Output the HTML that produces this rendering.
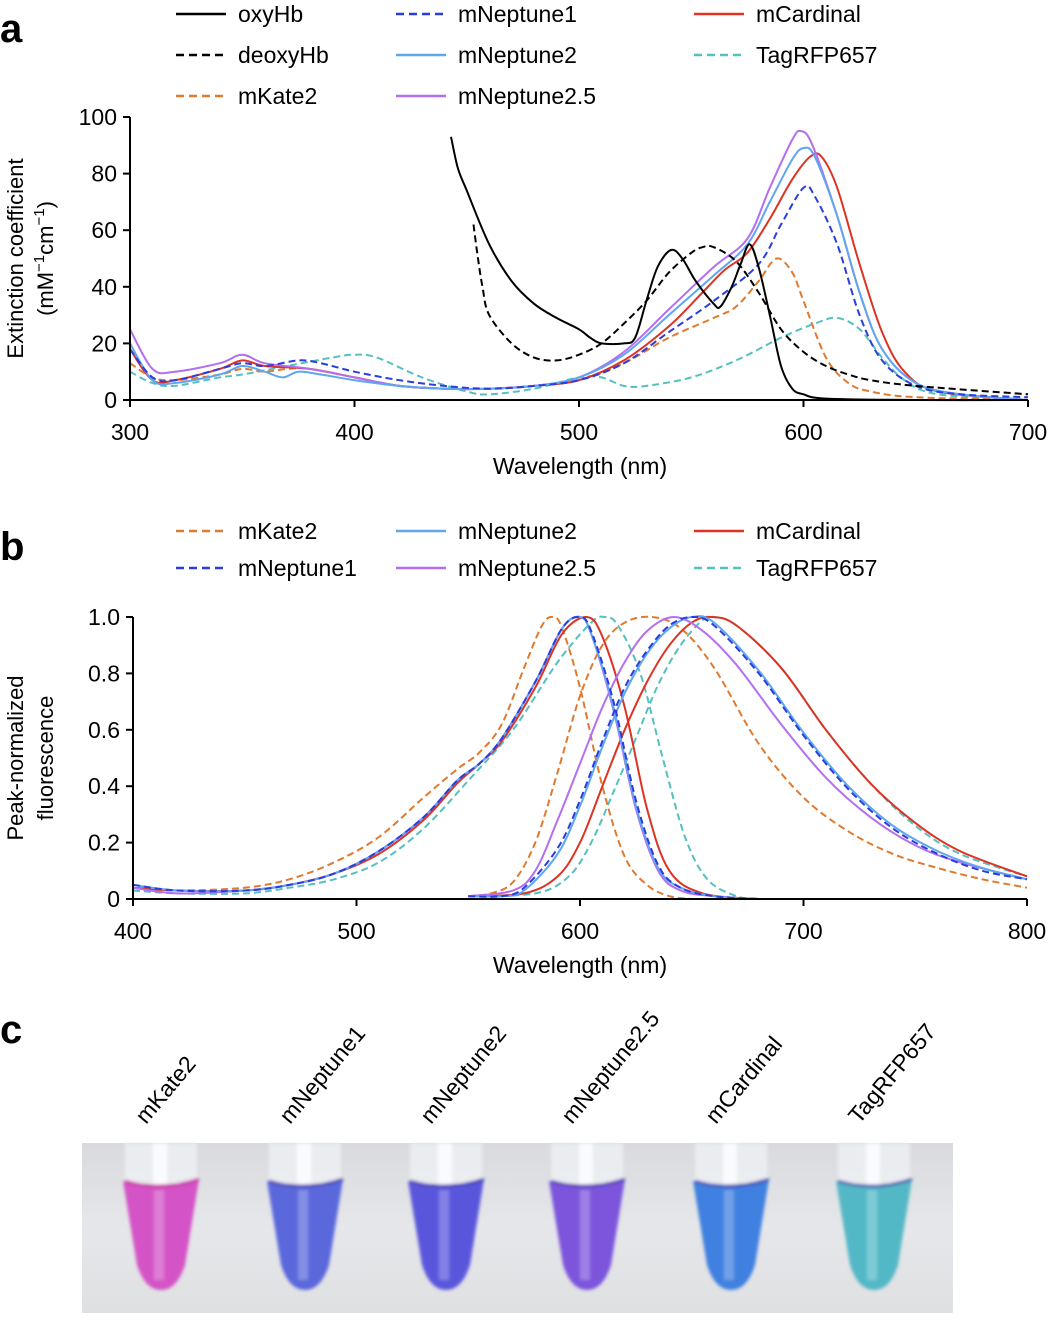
<!DOCTYPE html>
<html><head><meta charset="utf-8">
<style>
body{margin:0;background:#fff;}
svg{display:block;font-family:"Liberation Sans",sans-serif;}
</style></head>
<body>
<svg id="fig" width="1050" height="1317" viewBox="0 0 1050 1317">
<defs>
<linearGradient id="bg" x1="0" y1="0" x2="0" y2="1">
<stop offset="0" stop-color="#d9dadd"/><stop offset="0.5" stop-color="#e6e7ea"/><stop offset="1" stop-color="#dfe0e2"/>
</linearGradient>
<filter id="blur"><feGaussianBlur stdDeviation="1.5"/></filter>
</defs>
<g id="panelA"></g>
<g id="panelB"></g>
<g id="panelC"></g>
</svg>
<script>
// ---------- Panel a data (wavelength nm, extinction mM-1cm-1) ----------
const aOxyX=[443,446,450,460,470,480,490,500,505,510,520,525,530,535,541,546,552,560,563,568,572,576,580,585,590,595,600,610,650,700];
const aOxyY=[93,82,74,55,42,34,29,25,22,20,20,22,35,47,53,50,42,34,33,40,48,55,47,30,12,4,2,0.5,0,0];
const aDeoxyX=[453,455,457,460,470,480,490,500,510,520,530,540,550,555,560,570,580,590,600,610,620,630,650,700];
const aDeoxyY=[62,50,40,30,20,15,14,16,20,27,35,45,52,54,54,49,38,25,17,12,9,7,5,2];
const aKateX=[300,310,320,340,350,360,370,380,400,420,440,460,480,500,520,540,560,570,580,588,595,600,610,620,630,650,700];
const aKateY=[13,8,7,9,11,10,11,11,8,5,4,4,5,7,13,22,29,33,42,50,45,35,15,6,3,1,0];
const aNep1X=[300,310,320,340,350,360,375,385,400,420,440,460,480,500,520,540,560,580,590,600,605,615,625,635,650,670,700];
const aNep1Y=[18,8,7,11,13,12,14,13,10,7,5,4,5,7,13,24,35,48,62,75,72,55,30,14,5,2,1];
const aNep2X=[300,310,320,340,350,360,368,375,385,400,420,440,460,480,500,520,540,560,575,585,595,600,605,615,625,635,650,670,700];
const aNep2Y=[20,7,6,9,12,10,8,10,9,7,5,4,4,5,8,16,30,44,55,70,85,89,86,65,38,18,6,2,0];
const aNep25X=[300,310,320,340,350,360,380,400,420,440,460,480,500,520,540,560,575,585,595,599,604,615,625,635,650,670,700];
const aNep25Y=[25,11,10,13,16,13,11,8,5,4,4,5,8,17,32,47,57,75,92,95,90,65,38,18,6,2,0];
const aCardX=[300,310,320,340,350,360,380,400,420,440,460,480,500,520,540,555,565,575,585,595,603,608,615,625,635,645,660,700];
const aCardY=[18,7,7,11,14,12,11,8,5,4,4,5,7,14,26,38,46,52,64,78,86,86,75,48,24,10,3,0];
const aTagX=[300,310,320,340,350,370,390,400,410,430,450,460,480,500,510,520,530,550,570,590,605,615,625,635,645,660,700];
const aTagY=[10,6,5,8,9,12,15,16,15,8,3,2,4,8,8,5,5,8,14,22,27,29,25,15,7,2,0];
const aTicksX=[300,400,500,600,700];
const aTicksY=[0,20,40,60,80,100];

// ---------- Panel b data (peak-normalized) ----------
const bKateExX=[400,420,450,470,490,510,530,545,555,565,575,583,588,592,600,610,620,630,640,650];
const bKateExY=[0.04,0.03,0.04,0.07,0.13,0.22,0.36,0.46,0.52,0.62,0.82,0.97,1.0,0.96,0.75,0.4,0.15,0.05,0.01,0];
const bNep1ExX=[400,420,450,470,490,510,530,545,555,565,580,592,600,605,615,625,635,645,660,680];
const bNep1ExY=[0.05,0.03,0.03,0.05,0.09,0.17,0.29,0.42,0.48,0.57,0.77,0.96,1.0,0.95,0.7,0.35,0.12,0.04,0.01,0];
const bNep2ExY=[0.05,0.03,0.03,0.05,0.09,0.17,0.29,0.42,0.48,0.57,0.77,0.96,1.0,0.94,0.68,0.33,0.11,0.04,0.01,0];
const bNep25ExY=[0.04,0.02,0.03,0.05,0.09,0.17,0.29,0.42,0.48,0.57,0.77,0.96,1.0,0.94,0.67,0.32,0.1,0.03,0.01,0];
const bCardExX=[400,420,450,470,490,510,530,545,555,565,580,592,603,610,620,630,640,655,680];
const bCardExY=[0.04,0.03,0.03,0.05,0.09,0.16,0.28,0.41,0.48,0.56,0.75,0.94,1.0,0.93,0.68,0.32,0.1,0.02,0];
const bTagExX=[400,420,450,470,490,510,530,550,570,590,605,611,617,627,637,647,657,670,680];
const bTagExY=[0.03,0.02,0.02,0.04,0.07,0.13,0.25,0.42,0.6,0.84,0.98,1.0,0.97,0.8,0.5,0.22,0.07,0.01,0];
const bKateEmX=[550,560,570,580,590,600,610,620,632,645,660,680,700,720,740,760,780,800];
const bKateEmY=[0.01,0.02,0.06,0.2,0.45,0.72,0.9,0.98,1.0,0.96,0.82,0.55,0.36,0.24,0.16,0.11,0.07,0.04];
const bNep1EmX=[550,565,575,590,600,610,620,630,640,650,660,680,700,720,740,760,780,800];
const bNep1EmY=[0.01,0.01,0.04,0.18,0.35,0.56,0.75,0.88,0.97,1.0,0.97,0.8,0.58,0.39,0.25,0.16,0.1,0.07];
const bNep2EmY=[0.01,0.01,0.03,0.16,0.33,0.54,0.73,0.87,0.96,1.0,0.98,0.81,0.59,0.4,0.26,0.17,0.11,0.07];
const bNep25EmX=[550,570,580,590,600,610,620,630,642,655,670,690,710,730,750,770,800];
const bNep25EmY=[0.01,0.03,0.1,0.28,0.48,0.68,0.84,0.95,1.0,0.95,0.83,0.62,0.43,0.29,0.19,0.13,0.07];
const bCardEmX=[550,575,590,600,610,620,630,640,650,659,670,690,710,730,750,770,800];
const bCardEmY=[0.01,0.02,0.08,0.2,0.4,0.6,0.77,0.9,0.98,1.0,0.97,0.82,0.6,0.41,0.27,0.17,0.08];
const bTagEmX=[550,580,595,605,615,625,635,645,655,660,670,690,710,730,750,770,800];
const bTagEmY=[0.01,0.02,0.08,0.2,0.38,0.57,0.76,0.9,0.99,1.0,0.97,0.82,0.6,0.41,0.26,0.16,0.08];
const bTicksX=[400,500,600,700,800];
const bTicksY=[0,0.2,0.4,0.6,0.8,1.0];

// ---------- Panel c ----------
const tubeNames=["mKate2","mNeptune1","mNeptune2","mNeptune2.5","mCardinal","TagRFP657"];
const tubeColors=["#d452c6","#5a68dc","#5a56dc","#7c55dc","#3f80e0","#52b8c6"];

const NS="http://www.w3.org/2000/svg";
function mk(parent,tag,attrs){const e=document.createElementNS(NS,tag);for(const k in attrs)e.setAttribute(k,attrs[k]);parent.appendChild(e);return e;}

const ax=v=>130+(v-300)*898/400, ay=v=>400-v*2.83;
const bx=v=>133+(v-400)*894/400, by=v=>899-v*282;

function smoothPath(xs,ys,fx,fy){
  const p=xs.map((x,i)=>[fx(x),fy(ys[i])]);
  let d="M"+p[0][0].toFixed(1)+","+p[0][1].toFixed(1);
  for(let i=0;i<p.length-1;i++){
    const p0=p[i-1]||p[i],p1=p[i],p2=p[i+1],p3=p[i+2]||p2;
    const c1=[p1[0]+(p2[0]-p0[0])/6,p1[1]+(p2[1]-p0[1])/6];
    const c2=[p2[0]-(p3[0]-p1[0])/6,p2[1]-(p3[1]-p1[1])/6];
    d+="C"+c1[0].toFixed(1)+","+c1[1].toFixed(1)+" "+c2[0].toFixed(1)+","+c2[1].toFixed(1)+" "+p2[0].toFixed(1)+","+p2[1].toFixed(1);
  }
  return d;
}
const C={oxy:"#000",deoxy:"#000",kate:"#e07a2e",nep1:"#2a3ee0",nep2:"#5fa6f0",nep25:"#b46ef0",card:"#dd3322",tag:"#56c0c0"};

function drawAxes(g,fx,fy,tx,ty,x0,x1,fmt,xl,yl1,yl2,ylx){
  mk(g,"line",{x1:fx(x0),y1:fy(0),x2:fx(x1),y2:fy(0),stroke:"#000","stroke-width":2});
  mk(g,"line",{x1:fx(x0),y1:fy(0),x2:fx(x0),y2:fy(ty[ty.length-1]),stroke:"#000","stroke-width":2});
  tx.forEach(v=>{mk(g,"line",{x1:fx(v),y1:fy(0),x2:fx(v),y2:fy(0)+7,stroke:"#000","stroke-width":2});
    const t=mk(g,"text",{x:fx(v),y:fy(0)+40,"font-size":23,"text-anchor":"middle"});t.textContent=v;
    
    });
  ty.forEach(v=>{mk(g,"line",{x1:fx(x0)-7,y1:fy(v),x2:fx(x0),y2:fy(v),stroke:"#000","stroke-width":2});
    const t=mk(g,"text",{x:fx(x0)-13,y:fy(v)+8,"font-size":23,"text-anchor":"end"});t.textContent=fmt(v);
    
    });
  const xt=mk(g,"text",{x:580,y:fy(0)+74,"font-size":23,"text-anchor":"middle"});xt.textContent=xl;
  
  
  const mid=(fy(0)+fy(ty[ty.length-1]))/2;
  const y1=mk(g,"text",{x:ylx,y:mid,"font-size":22,"text-anchor":"middle",transform:`rotate(-90 ${ylx} ${mid})`});y1.innerHTML=yl1;
  
  
  const y2=mk(g,"text",{x:ylx+30,y:mid,"font-size":22,"text-anchor":"middle",transform:`rotate(-90 ${ylx+30} ${mid})`});y2.innerHTML=yl2;
  
  
}
function series(g,xs,ys,fx,fy,col,dash,name){
  const p=mk(g,"path",{d:smoothPath(xs,ys,fx,fy),fill:"none",stroke:col,"stroke-width":2,"stroke-dasharray":dash?"7,4":"none"});
  
  
}
function legend(g,x,y,col,dash,label){
  mk(g,"line",{x1:x,y1:y,x2:x+50,y2:y,stroke:col,"stroke-width":2.5,"stroke-dasharray":dash?"8,5":"none"});
  const t=mk(g,"text",{x:x+62,y:y+8,"font-size":23});t.textContent=label;
  
  
}
function panelLetter(g,l,y){const t=mk(g,"text",{x:0,y:y,"font-size":40,"font-weight":"bold"});t.textContent=l;
  
  }

// Panel a
const A=document.getElementById("panelA");
panelLetter(A,"a",42);
legend(A,176,14,"#000",false,"oxyHb");legend(A,396,14,C.nep1,true,"mNeptune1");legend(A,694,14,C.card,false,"mCardinal");
legend(A,176,55,"#000",true,"deoxyHb");legend(A,396,55,C.nep2,false,"mNeptune2");legend(A,694,55,C.tag,true,"TagRFP657");
legend(A,176,96,C.kate,true,"mKate2");legend(A,396,96,C.nep25,false,"mNeptune2.5");
series(A,aTagX,aTagY,ax,ay,C.tag,true,"tagrfp657-absorbance");
series(A,aKateX,aKateY,ax,ay,C.kate,true,"mkate2-absorbance");
series(A,aCardX,aCardY,ax,ay,C.card,false,"mcardinal-absorbance");
series(A,aNep25X,aNep25Y,ax,ay,C.nep25,false,"mneptune25-absorbance");
series(A,aNep2X,aNep2Y,ax,ay,C.nep2,false,"mneptune2-absorbance");
series(A,aNep1X,aNep1Y,ax,ay,C.nep1,true,"mneptune1-absorbance");
series(A,aDeoxyX,aDeoxyY,ax,ay,"#000",true,"deoxyhb-absorbance");
series(A,aOxyX,aOxyY,ax,ay,"#000",false,"oxyhb-absorbance");
drawAxes(A,ax,ay,aTicksX,aTicksY,300,700,v=>v,"Wavelength (nm)","Extinction coefficient",'(mM<tspan dy="-9" font-size="15">−1</tspan><tspan dy="9">cm</tspan><tspan dy="-9" font-size="15">−1</tspan><tspan dy="9">)</tspan>',23);

// Panel b
const B=document.getElementById("panelB");
panelLetter(B,"b",560);
legend(B,176,531,C.kate,true,"mKate2");legend(B,396,531,C.nep2,false,"mNeptune2");legend(B,694,531,C.card,false,"mCardinal");
legend(B,176,568,C.nep1,true,"mNeptune1");legend(B,396,568,C.nep25,false,"mNeptune2.5");legend(B,694,568,C.tag,true,"TagRFP657");
series(B,bTagExX,bTagExY,bx,by,C.tag,true,"tagrfp657-excitation");
series(B,bTagEmX,bTagEmY,bx,by,C.tag,true,"tagrfp657-emission");
series(B,bKateExX,bKateExY,bx,by,C.kate,true,"mkate2-excitation");
series(B,bKateEmX,bKateEmY,bx,by,C.kate,true,"mkate2-emission");
series(B,bCardExX,bCardExY,bx,by,C.card,false,"mcardinal-excitation");
series(B,bCardEmX,bCardEmY,bx,by,C.card,false,"mcardinal-emission");
series(B,bNep1ExX,bNep25ExY,bx,by,C.nep25,false,"mneptune25-excitation");
series(B,bNep25EmX,bNep25EmY,bx,by,C.nep25,false,"mneptune25-emission");
series(B,bNep1ExX,bNep2ExY,bx,by,C.nep2,false,"mneptune2-excitation");
series(B,bNep1EmX,bNep2EmY,bx,by,C.nep2,false,"mneptune2-emission");
series(B,bNep1ExX,bNep1ExY,bx,by,C.nep1,true,"mneptune1-excitation");
series(B,bNep1EmX,bNep1EmY,bx,by,C.nep1,true,"mneptune1-emission");
drawAxes(B,bx,by,bTicksX,bTicksY,400,800,v=>v===0?"0":v.toFixed(1),"Wavelength (nm)","Peak-normalized","fluorescence",23);

// Panel c
const P=document.getElementById("panelC");
panelLetter(P,"c",1043);
mk(P,"rect",{x:82,y:1143,width:871,height:170,fill:"url(#bg)"});
const centers=[161,305,446,587,731,874];
tubeNames.forEach((n,i)=>{
  const cx=centers[i];
  const t=mk(P,"text",{x:cx-15,y:1125,"font-size":23,transform:`rotate(-50 ${cx-15} 1125)`});t.textContent=n;
  
  
  const g=mk(P,"g",{filter:"url(#blur)"});
  
  
  mk(g,"rect",{x:cx-36,y:1143,width:72,height:40,fill:"#eef0f4",opacity:0.8});
  mk(g,"rect",{x:cx-8,y:1143,width:14,height:45,fill:"#fafbff"});
  mk(g,"path",{d:`M${cx-38},1181 Q${cx},1192 ${cx+38},1179 L${cx+24},1265 Q${cx+16},1290 ${cx},1290 Q${cx-16},1290 ${cx-24},1265 Z`,fill:tubeColors[i]});
  mk(g,"path",{d:`M${cx-36},1181 Q${cx},1192 ${cx+38},1179`,fill:"none",stroke:i==0?"#c01090":"#3020a0","stroke-width":3,opacity:0.7});
  mk(g,"rect",{x:cx-7,y:1190,width:10,height:90,fill:"#fff",opacity:0.25});
});
</script>
</body></html>
